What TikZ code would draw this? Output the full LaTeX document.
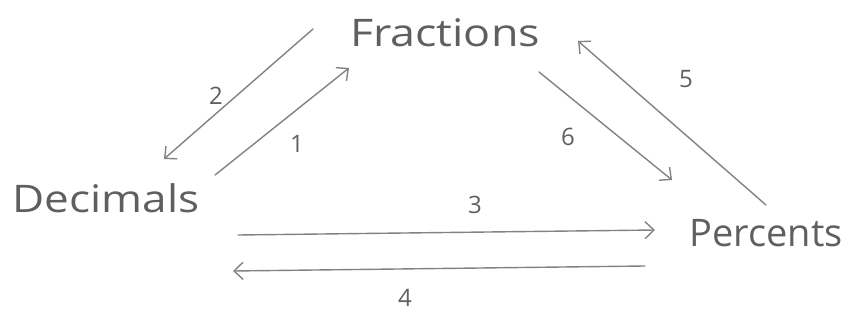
\documentclass[tikz,border=0pt]{standalone}
\usepackage{fontspec}
\setmainfont{Open Sans}
\usetikzlibrary{arrows.meta}
\definecolor{pencil}{RGB}{95,95,95}
\definecolor{lead}{RGB}{130,130,130}
\tikzset{
  word/.style={text=pencil, font=\fontsize{38}{40}\selectfont, inner sep=0pt, anchor=center},
  num/.style={text=pencil, font=\fontsize{24}{26}\selectfont, inner sep=0pt, anchor=center},
  conv/.style={draw=lead, line width=1.4pt, line cap=round,
     -{Straight Barb[length=9pt,width=17pt,line width=1.4pt]}}
}
\begin{document}
\begin{tikzpicture}[x=1pt,y=-1pt]
\useasboundingbox (0,0) rectangle (851,320);
\node[word, xscale=1.18] (F) at (445,33) {Fractions};
\node[word, xscale=1.16] (D) at (106,198) {Decimals};
\node[word] (P) at (766,233) {Percents};
\node[num] (n2) at (216,96) {2};
\node[num] (n1) at (297,144) {1};
\node[num] (n6) at (568,137) {6};
\node[num] (n5) at (686,79) {5};
\node[num] (n3) at (475,205) {3};
\node[num] (n4) at (405,298) {4};
\coordinate (a2s) at (313,29);
\coordinate (a2e) at (164,159);
\coordinate (a1s) at (215,175);
\coordinate (a1e) at (349,68);
\coordinate (a6s) at (539,72);
\coordinate (a6e) at (672,180);
\coordinate (a5s) at (766,205);
\coordinate (a5e) at (578,41);
\coordinate (a3s) at (238,235);
\coordinate (a3e) at (655,230);
\coordinate (a4s) at (645,266);
\coordinate (a4e) at (233,271);
\draw[conv] (a2s) -- (a2e);
\draw[conv] (a1s) -- (a1e);
\draw[conv] (a6s) -- (a6e);
\draw[conv] (a5s) -- (a5e);
\draw[conv] (a3s) -- (a3e);
\draw[conv] (a4s) -- (a4e);
\end{tikzpicture}
\end{document}
